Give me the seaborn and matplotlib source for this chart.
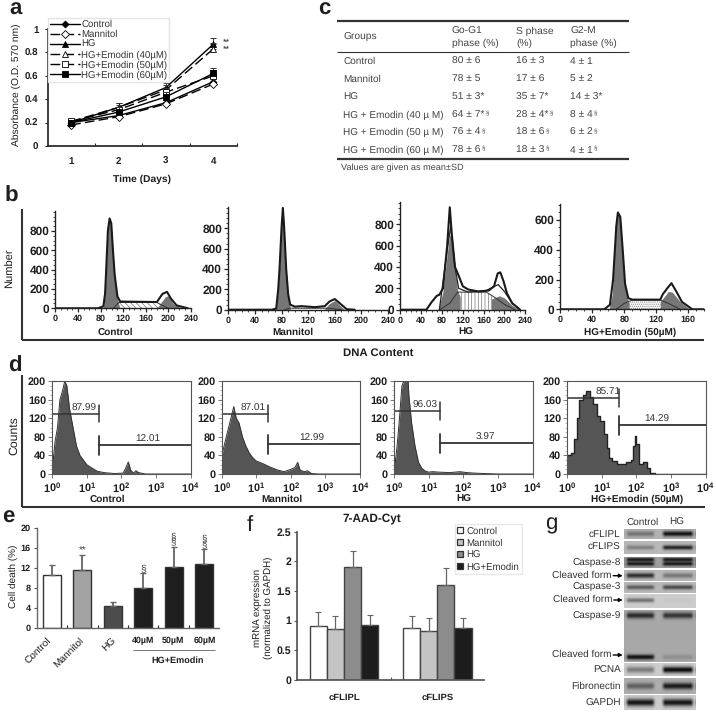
import numpy as np
import pandas as pd
import seaborn as sns
import matplotlib.pyplot as plt
from matplotlib.patches import Patch
from matplotlib.ticker import MultipleLocator, NullFormatter, FixedLocator

W, H = 716, 714

# panel a
days = ["1", "2", "3", "4"]
growth_names = ["Control", "Mannitol", "HG", "HG+Emodin (40µM)", "HG+Emodin (50µM)", "HG+Emodin (60µM)"]
growth_control = [0.20, 0.26, 0.37, 0.55]
growth_mannitol = [0.18, 0.25, 0.36, 0.53]
growth_hg = [0.20, 0.33, 0.50, 0.87]
growth_40 = [0.21, 0.33, 0.48, 0.83]
growth_50 = [0.21, 0.31, 0.46, 0.60]
growth_60 = [0.20, 0.29, 0.42, 0.62]
growth_err = [0.02, 0.04, 0.04, 0.05]

# panel c
table_head = ["Groups", "Go-G1\nphase (%)", "S phase\n(%)", "G2-M\nphase (%)"]
table_groups = ["Control", "Mannitol", "HG", "HG + Emodin (40 µ M)", "HG + Emodin (50 µ M)", "HG + Emodin (60 µ M)"]
table_g1 = ["80 ± 6", "78 ± 5", "51 ± 3*", "64 ± 7*", "76 ± 4", "78 ± 6"]
table_s = ["16 ± 3", "17 ± 6", "35 ± 7*", "28 ± 4*", "18 ± 6", "18 ± 3"]
table_g2 = ["4 ± 1", "5 ± 2", "14 ± 3*", "8 ± 4", "6 ± 2", "4 ± 1"]

# panel b, cell cycle curves as (DNA content, number)
b_titles = ["Control", "Mannitol", "HG", "HG+Emodin (50µM)"]
ctrl_g1 = ([85, 88, 90, 93, 96, 99, 102, 105, 110, 114], [0, 150, 400, 800, 930, 880, 600, 350, 100, 0])
ctrl_s = ([103, 112, 180, 190, 200], [0, 60, 60, 30, 0])
ctrl_g2 = ([180, 195, 200, 210, 225], [0, 120, 130, 40, 0])
ctrl_line = ([0, 75, 85, 88, 90, 93, 96, 99, 102, 105, 110, 115, 180, 190, 198, 205, 215, 235],
             [0, 0, 20, 150, 400, 800, 930, 880, 600, 350, 120, 70, 65, 150, 170, 100, 30, 0])
mann_g1 = ([72, 75, 77, 80, 82, 84, 87, 90, 93], [0, 200, 400, 800, 1000, 800, 400, 150, 20])
mann_s = ([85, 92, 150, 170], [0, 15, 15, 0])
mann_g2 = ([145, 152, 160, 168, 175], [10, 60, 90, 40, 0])
mann_line = ([0, 65, 72, 75, 77, 80, 82, 84, 87, 90, 93, 100, 110, 120, 130, 145, 152, 160, 168, 178, 190],
             [0, 0, 10, 200, 400, 800, 1000, 800, 400, 150, 50, 30, 35, 30, 25, 35, 80, 105, 60, 5, 0])
hg_g1 = ([73, 82, 90, 95, 100, 105, 110, 115], [0, 170, 520, 700, 680, 400, 180, 120])
hg_s = ([76, 95, 110, 165, 180, 200, 220], [0, 60, 165, 165, 120, 50, 0])
hg_g2 = ([175, 190, 200, 215, 228], [100, 130, 110, 40, 0])
hg_line = ([0, 50, 60, 70, 75, 82, 90, 95, 99, 105, 112, 120, 130, 150, 170, 180, 187, 192, 198, 205, 215, 230],
           [0, 0, 70, 130, 140, 200, 600, 960, 700, 400, 320, 220, 190, 170, 180, 220, 340, 350, 270, 150, 60, 0])
hg_fit = ([75, 90, 97, 105, 112, 130, 165, 188, 200, 215, 230], [0, 560, 780, 400, 200, 165, 180, 235, 170, 60, 0])
emo_g1 = ([61, 65, 68, 71, 74, 77, 80, 83, 86], [0, 100, 400, 640, 620, 400, 200, 90, 40])
emo_s = ([70, 80, 90, 125, 135, 150], [0, 40, 62, 62, 40, 0])
emo_g2 = ([125, 135, 140, 150, 162], [50, 120, 115, 50, 0])
emo_line = ([0, 55, 62, 66, 70, 72, 75, 78, 81, 85, 90, 125, 128, 135, 139, 145, 152, 165, 180],
            [0, 0, 30, 200, 560, 650, 620, 400, 170, 75, 65, 65, 100, 150, 175, 120, 50, 0, 0])

# panel d, histograms as (log10 intensity, counts)
d_titles = ["Control", "Mannitol", "HG", "HG+Emodin (50µM)"]
d_ctrl = ([0, .02, .08, .15, .22, .3, .36, .42, .5, .6, .7, .8, .9, 1.0, 1.1, 1.3, 1.5, 1.8, 2.05, 2.12, 2.2, 2.27, 2.35, 2.42, 2.5, 2.7, 4],
          [50, 25, 70, 100, 160, 180, 200, 190, 140, 100, 60, 40, 30, 20, 15, 6, 3, 1, 2, 12, 26, 8, 2, 7, 3, 0, 0])
d_mann = ([0, .02, .1, .2, .3, .35, .42, .5, .6, .7, .8, .9, 1.0, 1.1, 1.2, 1.4, 1.6, 1.8, 2.0, 2.12, 2.2, 2.27, 2.4, 2.48, 2.6, 2.8, 4],
          [80, 45, 70, 100, 130, 145, 120, 110, 80, 60, 45, 35, 28, 25, 22, 15, 9, 5, 10, 14, 25, 8, 5, 7, 1, 0, 0])
d_hg = ([0, .03, .08, .15, .22, .28, .4, .42, .5, .6, .7, .8, .9, 1.0, 1.1, 1.3, 1.6, 1.9, 2.1, 2.3, 2.6, 3, 4],
        [40, 25, 60, 120, 190, 200, 200, 170, 110, 60, 25, 12, 6, 4, 5, 4, 3, 5, 3, 2, 1, 0, 0])
d_emo = ([0, .1, .2, .28, .35, .45, .55, .65, .75, .85, .95, 1.05, 1.15, 1.22, 1.3, 1.45, 1.7, 1.83, 1.9, 1.95, 2.0, 2.08, 2.2, 2.3, 2.4, 2.55, 4],
         [40, 45, 75, 120, 160, 170, 178, 165, 150, 125, 115, 85, 55, 35, 28, 22, 25, 30, 60, 82, 65, 22, 25, 12, 3, 0, 0])
d_labels = [("87.99", "12.01"), ("87.01", "12.99"), ("96.03", "3.97"), ("85.71", "14.29")]
d_log_ticks = ["$\\mathbf{10^{0}}$", "$\\mathbf{10^{1}}$", "$\\mathbf{10^{2}}$", "$\\mathbf{10^{3}}$", "$\\mathbf{10^{4}}$"]

# panel e
death_groups = ["Control", "Mannitol", "HG", "40µM", "50µM", "60µM"]
death_values = [10.5, 11.6, 4.3, 7.9, 12.2, 12.7]
death_err = [2.0, 3.0, 0.9, 3.0, 4.0, 3.0]
death_colors = ["#ffffff", "#a3a3a3", "#4c4c4c", "#1e1e1e", "#1e1e1e", "#1e1e1e"]

# panel f
mrna_genes = ["cFLIPL", "cFLIPS"]
mrna_groups = ["Control", "Mannitol", "HG", "HG+Emodin"]
mrna_flipl = [0.90, 0.86, 1.90, 0.93]
mrna_flips = [0.87, 0.83, 1.60, 0.88]
mrna_flipl_err = [0.24, 0.21, 0.28, 0.16]
mrna_flips_err = [0.20, 0.21, 0.28, 0.17]
mrna_colors = ["#ffffff", "#c4c4c4", "#8c8c8c", "#1c1c1c"]

# panel g, band strengths for the two lanes
blot_names = ["cFLIPL", "cFLIPS", "Caspase-8", "Cleaved", "Caspase-3", "Cleaved 2", "Caspase-9", "PCNA", "Fibronectin", "GAPDH"]
blot_left = [0.35, 0.30, 0.85, 0.75, 0.50, 0.45, 0.75, 0.40, 0.45, 0.90]
blot_right = [0.90, 0.80, 0.85, 0.35, 0.60, 0.02, 0.70, 0.95, 0.85, 0.90]
blot_back = [0.70, 0.72, 0.62, 0.72, 0.72, 0.80, 0.66, 0.80, 0.68, 0.80]

TEXT = "#1e1e1e"
GREY = "#555555"
BOLD = dict(fontweight="bold", color=TEXT)

sns.set_theme(style="ticks")
plt.rcParams["font.family"] = ["Liberation Sans", "DejaVu Sans"]
plt.rcParams["mathtext.fontset"] = "custom"
plt.rcParams["mathtext.bf"] = "Liberation Sans:bold"
plt.rcParams["hatch.linewidth"] = 0.5
plt.rcParams["hatch.color"] = "#777777"
plt.rcParams["text.hinting"] = "none"

fig = plt.figure(figsize=(W / 100, H / 100), dpi=100, facecolor="white")


def px_axes(left, top, right, bottom):
    ax = fig.add_axes([left / W, 1 - bottom / H, (right - left) / W, (bottom - top) / H])
    ax.patch.set_alpha(0)
    return ax


over = fig.add_axes([0, 0, 1, 1], zorder=10)
over.set_xlim(0, W)
over.set_ylim(H, 0)
over.axis("off")


def put(x, y, s, size=7.5, ha="center", va="center", **kw):
    kw.setdefault("color", TEXT)
    return over.text(x, y, s, fontsize=size, ha=ha, va=va, **kw)


def rule(x0, y0, x1, y1, lw=1.5, color="#333333"):
    over.plot([x0, x1], [y0, y1], color=color, lw=lw, solid_capstyle="butt")


for s, x, y in [("a", 16, 9), ("b", 11, 196), ("c", 324, 9), ("d", 15, 366), ("e", 8, 517)]:
    put(x, y, s, size=16, fontweight="bold")
put(250, 525, "f", size=16)
put(551, 524, "g", size=16)


# a: growth curves
def draw_growth():
    ax = px_axes(47.5, 29, 237, 146)
    series = [growth_control, growth_mannitol, growth_hg, growth_40, growth_50, growth_60]
    markers = ["D", "D", "^", "^", "s", "s"]
    faces = ["black", "white", "black", "white", "white", "black"]
    styles = ["-", (0, (7, 3)), "-", (0, (7, 3)), (0, (7, 3)), "-"]
    sizes = [3.5, 4, 5, 5, 4.5, 4.5]
    for name, vals, m, f, st, ms in zip(growth_names, series, markers, faces, styles, sizes):
        frame = pd.DataFrame({"day": days, "value": vals})
        ax.errorbar(range(4), vals, yerr=[np.zeros(4), growth_err], fmt="none", ecolor="#333333",
                    elinewidth=0.7, capsize=2, capthick=0.7)
        sns.lineplot(data=frame, x="day", y="value", ax=ax, color="black", lw=1.0, linestyle=st,
                     marker=m, markersize=ms, markerfacecolor=f, markeredgecolor="black",
                     markeredgewidth=0.6, label=name, sort=False)
    ax.set_xlim(-0.5, 3.5)
    ax.set_ylim(0, 1)
    ax.set_yticks([0, 0.2, 0.4, 0.6, 0.8, 1])
    ax.set_yticklabels(["0", "0.2", "0.4", "0.6", "0.8", "1"], fontsize=7, **BOLD)
    ax.set_xticks(range(4))
    ax.set_xticklabels(days, fontsize=7, **BOLD)
    ax.xaxis.set_minor_locator(FixedLocator([0.5, 1.5, 2.5, 3.5]))
    ax.tick_params(axis="x", which="major", length=0, pad=8)
    ax.tick_params(axis="x", which="minor", length=2.5, direction="in", width=0.8)
    ax.tick_params(axis="y", length=2.5, width=0.8, pad=4)
    ax.set_xlabel("")
    ax.set_ylabel("")
    sns.despine(ax=ax)
    ax.annotate("**\n**", (3, 0.85), xytext=(7, 0), textcoords="offset points", fontsize=6.5,
                color=TEXT, va="center", linespacing=0.75)
    ax.legend(loc="upper left", bbox_to_anchor=(48 / W, 1 - 18 / H), bbox_transform=fig.transFigure,
              frameon=True, framealpha=1, edgecolor="#e4e4e4", fancybox=False, fontsize=6.9,
              labelspacing=0.08, handlelength=3.1, handletextpad=0.15, borderpad=0.2, borderaxespad=0,
              labelcolor="#333333")
    put(16, 85, "Absorbance (O.D. 570 nm)", size=7.4, rotation=90)
    put(142, 179, "Time (Days)", size=7.4, **BOLD)


# c: table
def draw_table():
    rule(337, 21, 629, 21, lw=1.6)
    rule(337, 51.7, 629, 51.7, lw=0.8)
    rule(337, 159, 629, 159, lw=1.6)
    col_x = [343.3, 451.7, 516, 570]
    for x, head in zip(col_x, table_head):
        put(x, 37, head, size=7.4, ha="left", color="#444444", linespacing=1.35)
    row_y = [61, 79, 97, 115, 132.7, 150.3]
    for i, y in enumerate(row_y):
        put(col_x[0], y, table_groups[i], size=7.2, ha="left", color="#444444")
        for x, col in zip(col_x[1:], [table_g1, table_s, table_g2]):
            t = put(x, y, col[i], size=7.4, ha="left", color="#444444")
            if i >= 3:
                over.annotate("§", xy=(1, 0.7), xycoords=t, xytext=(1, 0), textcoords="offset points",
                              fontsize=4.5, color="#444444", va="center")
    put(340.7, 168, "Values are given as mean±SD", size=6.6, ha="left", color="#444444")


# b: cell cycle
def draw_cycle():
    boxes = [(55.5, 211, 190.7, 308.3, 1007, 240), (228.3, 206.7, 388, 309.7, 1012, 240),
             (400.3, 201.7, 525.3, 309.7, 1012, 240), (560.3, 204.3, 704.3, 309.3, 705, 180)]
    parts = [(ctrl_g1, ctrl_s, ctrl_g2, ctrl_line, "\\\\\\\\\\\\"), (mann_g1, mann_s, mann_g2, mann_line, "......"),
             (hg_g1, hg_s, hg_g2, hg_line, "|||||"), (emo_g1, emo_s, emo_g2, emo_line, "........")]
    xticks = [range(0, 241, 40), range(0, 241, 40), range(0, 241, 40), range(0, 161, 40)]
    for k, (box, part, ticks) in enumerate(zip(boxes, parts, xticks)):
        left, top, right, bottom, ymax, xmax = box
        g1, sph, g2, line, hatch = part
        ax = px_axes(left, top, right, bottom)
        ax.fill_between(sph[0], sph[1], color="white", hatch=hatch, edgecolor="#777777", lw=0)
        ax.fill_between(g1[0], g1[1], color="#767676", lw=0)
        ax.fill_between(g2[0], g2[1], color="#767676", lw=0)
        sns.lineplot(x=sph[0], y=sph[1], ax=ax, color="#333333", lw=0.7, errorbar=None, sort=False)
        if k == 2:
            sns.lineplot(x=hg_fit[0], y=hg_fit[1], ax=ax, color="#222222", lw=0.9, errorbar=None, sort=False)
        sns.lineplot(x=line[0], y=line[1], ax=ax, color="#1a1a1a", lw=1.5, errorbar=None, sort=False)
        ax.set_xlim(0, xmax)
        ax.set_ylim(0, ymax)
        ax.set_xticks(list(ticks))
        ax.set_xticklabels([str(t) for t in ticks], fontsize=6.5, **BOLD)
        ax.set_yticks(range(0, 601, 200) if k == 3 else range(0, 801, 200))
        ax.set_yticklabels(["0", "200", "400", "600"] if k == 3 else ["0", "200", "400", "600", "800"], fontsize=8.6, **BOLD)
        ax.xaxis.set_minor_locator(MultipleLocator(10))
        ax.yaxis.set_minor_locator(MultipleLocator(50))
        ax.tick_params(which="major", length=3, width=0.9, pad=1.5)
        ax.tick_params(which="minor", length=1.5, width=0.6)
        for side in ["left", "bottom"]:
            ax.spines[side].set_linewidth(1.0)
            ax.spines[side].set_color("#222222")
        sns.despine(ax=ax)
        put([115, 293, 466, 630][k], 332, b_titles[k], size=7.2, **BOLD)
    rule(22, 209, 22, 340)
    rule(22, 340, 704, 340)
    put(10, 268, "Number", size=8, rotation=90, color=TEXT)
    put(378, 353, "DNA Content", size=8.2, **BOLD)


# d: 7-AAD histograms
def draw_counts():
    lefts = [52.3, 221.7, 394.3, 567.3]
    hists = [d_ctrl, d_mann, d_hg, d_emo]
    gate_ends = [1.35, 1.35, 1.33, 1.507]
    gate_high = [130, 130, 135, 164]
    gate_low = [62, 64, 66, 105]
    text_high = [0.92, 0.91, 0.89, 1.18]
    text_low = [2.76, 2.61, 2.63, 2.60]
    for k in range(4):
        ax = px_axes(lefts[k], 381, lefts[k] + 138.2, 474)
        logx, counts = hists[k]
        x = [10 ** v for v in logx]
        if k == 3:
            ax.fill_between(x, counts, step="post", color="#555555", lw=0)
            sns.lineplot(x=x, y=counts, ax=ax, color="#222222", lw=1.0, drawstyle="steps-post",
                         errorbar=None, sort=False)
        else:
            ax.fill_between(x, counts, color="#555555", lw=0)
            sns.lineplot(x=x, y=counts, ax=ax, color="#333333", lw=0.7, errorbar=None, sort=False)
        ax.set_xscale("log")
        ax.set_xlim(1, 1e4)
        ax.set_ylim(0, 200)
        ax.set_xticks([1, 10, 100, 1000, 10000])
        ax.set_xticklabels(d_log_ticks, fontsize=7.8, color=TEXT)
        ax.xaxis.set_minor_formatter(NullFormatter())
        ax.set_yticks(range(0, 201, 40))
        ax.set_yticklabels(["0", "40", "80", "120", "160", "200"], fontsize=7.8, **BOLD)
        ax.yaxis.set_minor_locator(MultipleLocator(10))
        ax.tick_params(which="major", length=3, width=0.7, color="#777777", pad=1.5)
        ax.tick_params(which="minor", length=1.5, width=0.5, color="#999999")
        for sp in ax.spines.values():
            sp.set_color("#555555")
            sp.set_linewidth(0.8)
        end = 10 ** gate_ends[k]
        hi, lo = gate_high[k], gate_low[k]
        ax.plot([1, end], [hi, hi], color="#333333", lw=1.1)
        ax.plot([end, end], [hi - 19, hi + 19], color="#333333", lw=1.1)
        ax.plot([end, 1e4], [lo, lo], color="#333333", lw=1.3)
        ax.plot([end, end], [lo - 21, lo + 19], color="#333333", lw=1.3)
        ax.text(10 ** text_high[k], hi + 2, d_labels[k][0], fontsize=7.2, ha="center", va="bottom", color="#333333")
        ax.text(10 ** text_low[k], lo + 2, d_labels[k][1], fontsize=7.2, ha="center", va="bottom", color="#333333")
        ax.set_xlabel("")
        ax.set_ylabel("")
        put([107, 282, 464, 637][k], 499, d_titles[k], size=7.2, **BOLD)
    rule(22, 375, 22, 506.7)
    rule(22, 506.7, 705, 506.7)
    put(14, 436, "Counts", size=8.8, rotation=90, color=TEXT)


# e: cell death
def draw_death():
    ax = px_axes(36.7, 527.7, 219.3, 627.7)
    sns.barplot(x=death_groups, y=death_values, hue=death_groups, palette=death_colors, legend=False,
                width=0.6, ax=ax, edgecolor="#333333", linewidth=1.0, dodge=False)
    ax.errorbar(range(6), death_values, yerr=[np.zeros(6), death_err], fmt="none", ecolor="#666666",
                elinewidth=1.3, capsize=2.5, capthick=1.0, zorder=1)
    ax.set_xlim(-0.5, 5.5)
    ax.set_ylim(0, 20)
    ax.set_yticks(range(0, 21, 4))
    ax.set_yticklabels(["0", "4", "8", "12", "16", "20"], fontsize=6.6, **BOLD)
    ax.set_xticks([])
    ax.xaxis.set_minor_locator(FixedLocator([0.5, 1.5, 2.5, 3.5, 4.5]))
    ax.tick_params(axis="x", which="minor", length=2, width=0.8, direction="in", color="#222222")
    ax.tick_params(axis="y", length=2.5, width=0.8, color="#555555", pad=2)
    for side in ["left", "bottom"]:
        ax.spines[side].set_color("#666666")
        ax.spines[side].set_linewidth(1.0)
    sns.despine(ax=ax)
    ax.set_ylabel("")
    ax.text(1, 14.4, "**", fontsize=7, ha="center", va="bottom", color="#444444")
    ax.text(3, 10.7, "§", fontsize=7.5, ha="center", va="bottom", color="#444444")
    ax.text(4, 16.0, "§\n§", fontsize=7, ha="center", va="bottom", color="#444444", linespacing=0.5)
    ax.text(5, 15.5, "§\n§", fontsize=7, ha="center", va="bottom", color="#444444", linespacing=0.5)
    put(13, 576, "Cell death (%)", size=7.2, rotation=90)
    for x, name in [(46.5, "Control"), (79.5, "Mannitol"), (112, "HG")]:
        over.text(x, 636, name, fontsize=7.3, rotation=45, ha="right", va="top", rotation_mode="anchor", color=TEXT)
    for x, name in zip([142.7, 173, 204.7], death_groups[3:]):
        put(x, 640.5, name, size=6.4, **BOLD)
    rule(133, 650, 215, 650, lw=0.7, color="#777777")
    put(178, 661, "HG+Emodin", size=6.6, **BOLD)


# f: mRNA
def draw_mrna():
    ax = px_axes(297.3, 531.7, 484, 679.7)
    frame = pd.DataFrame({
        "gene": np.repeat(mrna_genes, 4),
        "group": mrna_groups * 2,
        "value": mrna_flipl + mrna_flips,
    })
    sns.barplot(data=frame, x="gene", y="value", hue="group", palette=mrna_colors, width=0.733, ax=ax,
                edgecolor="#444444", linewidth=1.0, gap=0, errorbar=None, legend=False)
    step = 0.733 / 4
    for g, (vals, errs) in enumerate([(mrna_flipl, mrna_flipl_err), (mrna_flips, mrna_flips_err)]):
        xs = [g + (i - 1.5) * step for i in range(4)]
        ax.errorbar(xs, vals, yerr=[np.zeros(4), errs], fmt="none", ecolor="#666666", elinewidth=0.9,
                    capsize=2.2, capthick=0.8, zorder=1)
    ax.set_xlim(-0.5, 1.5)
    ax.set_ylim(0, 2.5)
    ax.set_yticks([0, 0.5, 1, 1.5, 2, 2.5])
    ax.set_yticklabels(["0", "0.5", "1", "1.5", "2", "2.5"], fontsize=7.6, **BOLD)
    ax.set_xticks([0, 1])
    ax.set_xticklabels(mrna_genes, fontsize=6.8, **BOLD)
    ax.xaxis.set_minor_locator(FixedLocator([0.5]))
    ax.tick_params(axis="x", which="major", length=0, pad=10)
    ax.tick_params(axis="x", which="minor", length=2.5, direction="in", width=0.8, color="#555555")
    ax.tick_params(axis="y", length=2.5, width=0.8, color="#555555", pad=2)
    ax.spines["bottom"].set_color("#555555")
    ax.spines["left"].set_color("#555555")
    sns.despine(ax=ax)
    ax.set_xlabel("")
    ax.set_ylabel("")
    handles = [Patch(facecolor=c, edgecolor="#333333", lw=0.9, label=n) for c, n in zip(mrna_colors, mrna_groups)]
    over.legend(handles=handles, loc="upper left", bbox_to_anchor=(455, 524), bbox_transform=over.transData,
                frameon=True, framealpha=1, edgecolor="#e8e8e8", fancybox=False, fontsize=6.9,
                labelspacing=0.28, handlelength=0.6, handleheight=0.6, handletextpad=0.35,
                borderpad=0.25, borderaxespad=0, labelcolor="#333333")
    put(263, 608, "mRNA expression\n(normalized to GAPDH)", size=7, rotation=90, linespacing=1.15)
    put(371.7, 518, "7-AAD-Cyt", size=8.5, **BOLD)


# g: western blots
def lane_row(left, right, n=90):
    xs = np.linspace(0, 1, n)
    row = np.where(xs < 0.46, left, right)
    edge = np.clip(np.minimum(np.abs(xs - 0.01), np.abs(xs - 0.44)) / 0.05, 0, 1)
    edge2 = np.clip(np.minimum(np.abs(xs - 0.52), np.abs(xs - 0.985)) / 0.05, 0, 1)
    row = row * np.where(xs < 0.46, edge, edge2)
    row = np.where((xs > 0.44) & (xs < 0.52), 0, row)
    return row


def draw_blots():
    strips = [(529, 539.5, [(534.5, 1.8, 1)]), (541, 554, [(547.5, 1.6, 1)]), (557, 568.5, [(560.5, 1.4, 1), (564.5, 1.4, 1)]),
              (570, 581, [(575.5, 1.8, 1)]), (582, 592.5, [(587, 1.5, 1)]), (593.5, 608, [(600.5, 1.5, 1)]),
              (610, 662, [(616, 2.2, 1), (657.5, 1.8, 1)]), (662.5, 676, [(670, 2.2, 1)]), (678, 694, [(686.5, 2.2, 1)]),
              (695, 710, [(702.5, 2.6, 1)])]
    for i, (top, bottom, bands) in enumerate(strips):
        ax = px_axes(624, top, 696, bottom)
        ys = np.linspace(top, bottom, 60)
        img = np.full((60, 90), blot_back[i])
        for cy, sig, _ in bands:
            if blot_names[i] == "Caspase-9" and cy > 650:
                strength = lane_row(0.9, 0.15)
            else:
                strength = lane_row(blot_left[i], blot_right[i])
            prof = np.exp(-((ys - cy) ** 2) / (2 * sig ** 2))
            img = img * (1 - np.outer(prof, strength))
        ax.imshow(img, cmap="gray", vmin=0, vmax=1, aspect="auto", interpolation="bilinear")
        ax.axis("off")
    names = [("cFLIPL", 534), ("cFLIPS", 547.5), ("Caspase-8", 563), ("Caspase-3", 587), ("Caspase-9", 616.7),
             ("PCNA", 670), ("Fibronectin", 686.5), ("GAPDH", 703)]
    for name, y in names:
        put(620.7, y, name, size=7.2, ha="right", color="#333333")
    for x1, y in [(611.7, 575.7), (612.3, 600), (611.7, 655)]:
        put(x1, y - 0.5, "Cleaved form", size=7.2, ha="right", color="#333333")
        over.annotate("", xy=(622.7, y), xytext=(x1 + 1.5, y),
                      arrowprops=dict(arrowstyle="-|>", color="black", lw=1, mutation_scale=5, shrinkA=0, shrinkB=0))
    put(643, 522, "Control", size=7.2, color="#333333")
    put(677, 522, "HG", size=7.2, color="#333333")


draw_growth()
draw_table()
draw_cycle()
draw_counts()
draw_death()
draw_mrna()
draw_blots()

fig.savefig("out.png", dpi=100)
